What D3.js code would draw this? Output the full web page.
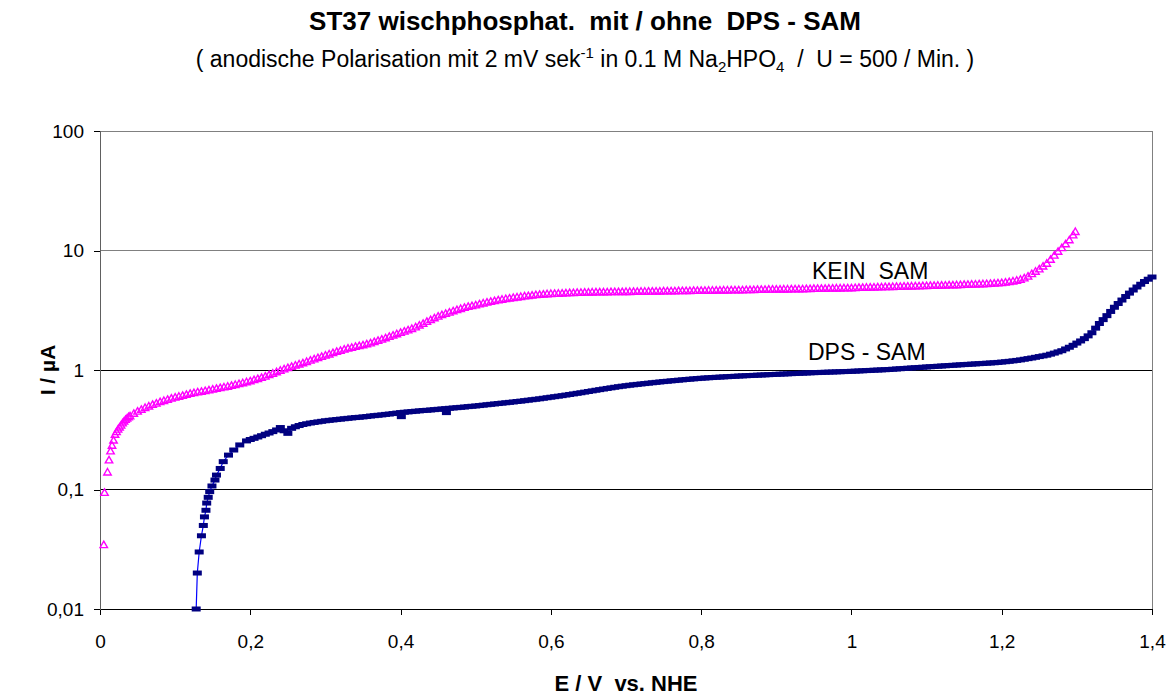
<!DOCTYPE html>
<html>
<head>
<meta charset="utf-8">
<script src="https://cdn.jsdelivr.net/npm/d3@7"></script>
<style>
  body { margin: 0; background: #fff; }
  text { font-family: "Liberation Sans", Arial, sans-serif; white-space: pre; }
</style>
</head>
<body>
<script>
// chart values
const xTicks = [0, 0.2, 0.4, 0.6, 0.8, 1, 1.2, 1.4];
const yTicks = [0.01, 0.1, 1, 10, 100];

// KEIN SAM (pink triangles), [E / V, I / µA]
const kein = [
  [0.005,0.034],[0.006,0.093],[0.010,0.138],[0.012,0.174],[0.014,0.207],[0.016,0.231],[0.018,0.255],
  [0.020,0.285],[0.022,0.30],[0.024,0.315],[0.026,0.328],[0.028,0.34],[0.030,0.355],[0.032,0.368],
  [0.034,0.38],[0.036,0.39],[0.038,0.40],[0.040,0.407],[0.045,0.427],[0.050,0.445],[0.055,0.462],
  [0.060,0.478],[0.065,0.492],[0.070,0.507],[0.075,0.52],[0.080,0.535],[0.085,0.547],[0.090,0.56],
  [0.095,0.572],[0.100,0.583],[0.105,0.594],[0.110,0.605],[0.115,0.616],[0.120,0.627],[0.125,0.636],
  [0.130,0.645],[0.135,0.653],[0.140,0.662],[0.145,0.671],[0.150,0.68],[0.155,0.69],[0.160,0.70],
  [0.165,0.71],[0.170,0.72],[0.175,0.732],[0.180,0.745],[0.185,0.757],[0.190,0.77],[0.195,0.785],
  [0.200,0.80],[0.205,0.817],[0.210,0.835],[0.215,0.855],[0.220,0.875],[0.225,0.90],[0.230,0.925],
  [0.235,0.952],[0.240,0.98],[0.245,1.005],[0.250,1.03],[0.255,1.055],[0.260,1.08],[0.265,1.105],
  [0.270,1.13],[0.275,1.16],[0.280,1.19],[0.285,1.22],[0.290,1.25],[0.295,1.28],[0.300,1.31],
  [0.305,1.34],[0.310,1.375],[0.315,1.41],[0.320,1.44],[0.325,1.47],[0.330,1.50],[0.335,1.525],
  [0.340,1.55],[0.345,1.575],[0.350,1.60],[0.355,1.63],[0.360,1.66],[0.365,1.70],[0.370,1.74],
  [0.375,1.785],[0.380,1.83],[0.385,1.88],[0.390,1.93],[0.395,1.98],[0.400,2.03],[0.405,2.08],
  [0.410,2.13],[0.415,2.19],[0.420,2.26],[0.425,2.34],[0.430,2.42],[0.435,2.51],[0.440,2.6],
  [0.445,2.69],[0.450,2.78],[0.455,2.86],[0.460,2.93],[0.465,3.0],[0.470,3.08],[0.475,3.15],
  [0.480,3.22],[0.485,3.29],[0.490,3.35],[0.495,3.4],[0.500,3.45],[0.505,3.52],[0.510,3.58],
  [0.515,3.64],[0.520,3.70],[0.525,3.75],[0.530,3.80],[0.535,3.85],[0.540,3.90],[0.545,3.94],
  [0.550,3.98],[0.555,4.02],[0.560,4.06],[0.565,4.1],[0.570,4.13],[0.575,4.17],[0.580,4.20],
  [0.585,4.23],[0.590,4.25],[0.595,4.28],[0.600,4.30],[0.605,4.31],[0.610,4.32],[0.615,4.335],
  [0.620,4.35],[0.625,4.365],[0.630,4.38],[0.635,4.39],[0.640,4.40],[0.645,4.41],[0.650,4.42],
  [0.655,4.425],[0.660,4.43],[0.665,4.435],[0.670,4.44],[0.675,4.44],[0.680,4.45],[0.685,4.45],
  [0.690,4.46],[0.695,4.46],[0.700,4.47],[0.705,4.47],[0.710,4.48],[0.715,4.48],[0.720,4.49],
  [0.725,4.49],[0.730,4.50],[0.735,4.50],[0.740,4.51],[0.745,4.51],[0.750,4.52],[0.755,4.52],
  [0.760,4.53],[0.765,4.53],[0.770,4.54],[0.775,4.54],[0.780,4.55],[0.785,4.55],[0.790,4.56],
  [0.795,4.56],[0.800,4.57],[0.805,4.57],[0.810,4.58],[0.815,4.58],[0.820,4.59],[0.825,4.59],
  [0.830,4.60],[0.835,4.60],[0.840,4.61],[0.845,4.61],[0.850,4.62],[0.855,4.62],[0.860,4.63],
  [0.865,4.63],[0.870,4.64],[0.875,4.65],[0.880,4.66],[0.885,4.66],[0.890,4.67],[0.895,4.67],
  [0.900,4.68],[0.905,4.68],[0.910,4.69],[0.915,4.69],[0.920,4.70],[0.925,4.70],[0.930,4.71],
  [0.935,4.71],[0.940,4.72],[0.945,4.73],[0.950,4.74],[0.955,4.74],[0.960,4.75],[0.965,4.75],
  [0.970,4.76],[0.975,4.77],[0.980,4.78],[0.985,4.78],[0.990,4.79],[0.995,4.79],[1.000,4.80],
  [1.005,4.82],[1.010,4.83],[1.015,4.84],[1.020,4.85],[1.025,4.86],[1.030,4.87],[1.035,4.88],
  [1.040,4.89],[1.045,4.90],[1.050,4.91],[1.055,4.92],[1.060,4.93],[1.065,4.94],[1.070,4.95],
  [1.075,4.96],[1.080,4.97],[1.085,4.98],[1.090,4.99],[1.095,5.00],[1.100,5.01],[1.105,5.02],
  [1.110,5.03],[1.115,5.04],[1.120,5.05],[1.125,5.06],[1.130,5.07],[1.135,5.08],[1.140,5.09],
  [1.145,5.10],[1.150,5.12],[1.155,5.13],[1.160,5.15],[1.165,5.16],[1.170,5.18],[1.175,5.19],
  [1.180,5.21],[1.185,5.23],[1.190,5.25],[1.195,5.27],[1.200,5.3],[1.205,5.35],[1.210,5.4],
  [1.215,5.47],[1.220,5.55],[1.225,5.66],[1.230,5.8],[1.235,6.0],[1.240,6.3],[1.245,6.6],
  [1.250,6.9],[1.255,7.3],[1.260,7.7],[1.265,8.3],[1.270,9.0],[1.275,9.7],[1.280,10.4],
  [1.285,11.2],[1.290,12.1],[1.295,13.3],[1.298,14.2]
];

// DPS - SAM (navy dashes on a blue line), [E / V, I / µA]
const dps = [
  [0.128,0.010],[0.1295,0.020],[0.132,0.030],[0.135,0.041],[0.1375,0.050],[0.139,0.059],[0.141,0.067],
  [0.142,0.077],[0.144,0.086],[0.146,0.096],[0.149,0.107],[0.153,0.12],[0.155,0.132],[0.160,0.15],
  [0.164,0.171],[0.171,0.194],[0.178,0.214],[0.186,0.236],[0.195,0.255],[0.200,0.262],[0.205,0.268],
  [0.210,0.275],[0.215,0.282],[0.220,0.29],[0.225,0.297],[0.230,0.305],[0.235,0.315],[0.240,0.33],
  [0.245,0.31],[0.250,0.295],[0.255,0.325],[0.260,0.335],[0.265,0.343],[0.270,0.35],[0.275,0.355],
  [0.280,0.36],[0.285,0.364],[0.290,0.368],[0.295,0.372],[0.300,0.376],[0.305,0.379],[0.310,0.382],
  [0.315,0.385],[0.320,0.388],[0.325,0.391],[0.330,0.394],[0.335,0.397],[0.340,0.40],[0.345,0.402],
  [0.350,0.405],[0.355,0.408],[0.360,0.412],[0.365,0.415],[0.370,0.418],[0.375,0.421],[0.380,0.425],
  [0.385,0.428],[0.390,0.432],[0.395,0.436],[0.400,0.44],[0.401,0.407],[0.405,0.443],[0.410,0.446],
  [0.415,0.449],[0.420,0.452],[0.425,0.455],[0.430,0.458],[0.435,0.46],[0.440,0.463],[0.445,0.466],
  [0.450,0.469],[0.455,0.472],[0.460,0.475],[0.461,0.44],[0.465,0.478],[0.470,0.481],[0.475,0.484],
  [0.480,0.487],[0.485,0.49],[0.490,0.494],[0.495,0.497],[0.500,0.50],[0.505,0.504],[0.510,0.508],
  [0.515,0.512],[0.520,0.516],[0.525,0.52],[0.530,0.524],[0.535,0.528],[0.540,0.532],[0.545,0.536],
  [0.550,0.54],[0.555,0.545],[0.560,0.549],[0.565,0.554],[0.570,0.559],[0.575,0.564],[0.580,0.569],
  [0.585,0.574],[0.590,0.58],[0.595,0.586],[0.600,0.592],[0.605,0.598],[0.610,0.604],[0.615,0.61],
  [0.620,0.617],[0.625,0.624],[0.630,0.631],[0.635,0.638],[0.640,0.645],[0.645,0.653],[0.650,0.661],
  [0.655,0.669],[0.660,0.677],[0.665,0.685],[0.670,0.693],[0.675,0.701],[0.680,0.709],[0.685,0.717],
  [0.690,0.725],[0.695,0.732],[0.700,0.739],[0.705,0.746],[0.710,0.752],[0.715,0.758],[0.720,0.764],
  [0.725,0.77],[0.730,0.776],[0.735,0.782],[0.740,0.788],[0.745,0.794],[0.750,0.80],[0.755,0.805],
  [0.760,0.811],[0.765,0.816],[0.770,0.822],[0.775,0.827],[0.780,0.833],[0.785,0.838],[0.790,0.843],
  [0.795,0.848],[0.800,0.853],[0.805,0.857],[0.810,0.861],[0.815,0.865],[0.820,0.869],[0.825,0.872],
  [0.830,0.876],[0.835,0.879],[0.840,0.883],[0.845,0.886],[0.850,0.89],[0.855,0.893],[0.860,0.896],
  [0.865,0.899],[0.870,0.902],[0.875,0.905],[0.880,0.908],[0.885,0.911],[0.890,0.914],[0.895,0.917],
  [0.900,0.92],[0.905,0.923],[0.910,0.926],[0.915,0.929],[0.920,0.932],[0.925,0.935],[0.930,0.938],
  [0.935,0.941],[0.940,0.944],[0.945,0.947],[0.950,0.95],[0.955,0.952],[0.960,0.955],[0.965,0.957],
  [0.970,0.96],[0.975,0.962],[0.980,0.965],[0.985,0.967],[0.990,0.97],[0.995,0.972],[1.000,0.975],
  [1.005,0.978],[1.010,0.982],[1.015,0.985],[1.020,0.989],[1.025,0.992],[1.030,0.996],[1.035,0.999],
  [1.040,1.003],[1.045,1.006],[1.050,1.01],[1.055,1.015],[1.060,1.02],[1.065,1.025],[1.070,1.03],
  [1.075,1.035],[1.080,1.04],[1.085,1.045],[1.090,1.05],[1.095,1.055],[1.100,1.06],[1.105,1.065],
  [1.110,1.07],[1.115,1.075],[1.120,1.08],[1.125,1.085],[1.130,1.09],[1.135,1.095],[1.140,1.10],
  [1.145,1.105],[1.150,1.11],[1.155,1.115],[1.160,1.12],[1.165,1.125],[1.170,1.13],[1.175,1.135],
  [1.180,1.14],[1.185,1.145],[1.190,1.15],[1.195,1.157],[1.200,1.165],[1.205,1.173],[1.210,1.182],
  [1.215,1.192],[1.220,1.203],[1.225,1.215],[1.230,1.23],[1.235,1.245],[1.240,1.26],[1.245,1.277],
  [1.250,1.295],[1.255,1.312],[1.260,1.33],[1.265,1.357],[1.270,1.385],[1.275,1.417],[1.280,1.45],
  [1.285,1.5],[1.290,1.55],[1.295,1.61],[1.300,1.68],[1.305,1.75],[1.310,1.83],[1.315,1.93],
  [1.320,2.05],[1.325,2.24],[1.330,2.45],[1.335,2.64],[1.340,2.85],[1.345,3.09],[1.350,3.35],
  [1.355,3.6],[1.360,3.85],[1.365,4.12],[1.370,4.4],[1.375,4.67],[1.380,4.95],[1.385,5.22],
  [1.390,5.5],[1.395,5.75],[1.400,6.0]
];

const width = 1171;
const height = 695;
const plot = {left: 100, right: 1152, top: 131, bottom: 609};

let svg = d3.select("body").append("svg")
  .attr("width", width)
  .attr("height", height);

let x = d3.scaleLinear().domain([0, 1.4]).range([plot.left, plot.right]);
let y = d3.scaleLog().domain([0.01, 100]).range([plot.bottom, plot.top]);

const comma = v => String(v).replace(".", ",");

// gridlines (top ones look grey, lower ones black)
svg.append("g").selectAll("line")
  .data(yTicks.slice(1))
  .enter().append("line")
    .attr("x1", plot.left).attr("x2", plot.right)
    .attr("y1", d => y(d)).attr("y2", d => y(d))
    .attr("stroke", d => d >= 10 ? "#808080" : "#000")
    .attr("stroke-width", 1)
    .attr("shape-rendering", "crispEdges");

// right border
svg.append("line")
  .attr("x1", plot.right).attr("x2", plot.right)
  .attr("y1", plot.top).attr("y2", plot.bottom)
  .attr("stroke", "#808080")
  .attr("shape-rendering", "crispEdges");

// axes
let xAxis = svg.append("g")
  .attr("transform", "translate(0," + plot.bottom + ")")
  .call(d3.axisBottom(x).tickValues(xTicks).tickSize(6).tickPadding(20).tickFormat(comma));
xAxis.select(".domain").attr("stroke", "#000");
xAxis.selectAll(".tick line").attr("stroke", "#000");
xAxis.selectAll("text").attr("font-size", 19).attr("font-family", "Liberation Sans, Arial").attr("fill", "#000");

let yAxis = svg.append("g")
  .attr("transform", "translate(" + plot.left + ",0)")
  .call(d3.axisLeft(y).tickValues(yTicks).tickSize(6).tickPadding(10).tickFormat(comma));
yAxis.select(".domain").attr("stroke", "#606060");
yAxis.selectAll(".tick line").attr("stroke", "#000");
yAxis.selectAll("text").attr("font-size", 19).attr("font-family", "Liberation Sans, Arial").attr("fill", "#000");
svg.selectAll(".domain, .tick line").attr("shape-rendering", "crispEdges");

// DPS line + dashes
let line = d3.line().x(d => x(d[0])).y(d => y(d[1]));
svg.append("path")
  .datum(dps)
  .attr("d", line)
  .attr("fill", "none")
  .attr("stroke", "#0000ff")
  .attr("stroke-width", 1.2);

svg.append("g").selectAll("rect")
  .data(dps)
  .enter().append("rect")
    .attr("x", d => x(d[0]) - 4.5)
    .attr("y", d => y(d[1]) - 2.5)
    .attr("width", 9)
    .attr("height", 5)
    .attr("fill", "#000080");

// KEIN SAM triangles
let tri = d3.symbol().type(d3.symbolTriangle).size(24);
svg.append("g").selectAll("path")
  .data(kein)
  .enter().append("path")
    .attr("d", tri)
    .attr("transform", d => "translate(" + x(d[0]) + "," + y(d[1]) + ")")
    .attr("fill", "none")
    .attr("stroke", "#ff00ff")
    .attr("stroke-width", 1.4);

// series labels
svg.append("text").attr("x", 812).attr("y", 279).attr("font-size", 23).text("KEIN  SAM");
svg.append("text").attr("x", 808).attr("y", 360).attr("font-size", 23).text("DPS - SAM");

// titles
svg.append("text")
  .attr("x", 585).attr("y", 30)
  .attr("text-anchor", "middle")
  .attr("font-size", 26).attr("font-weight", "bold")
  .text("ST37 wischphosphat.  mit / ohne  DPS - SAM");

let sub = svg.append("text")
  .attr("x", 585).attr("y", 67)
  .attr("text-anchor", "middle")
  .attr("font-size", 23);
sub.append("tspan").text("( anodische Polarisation mit 2 mV sek");
sub.append("tspan").attr("font-size", 15).attr("dy", -9).text("-1");
sub.append("tspan").attr("dy", 9).text(" in 0.1 M Na");
sub.append("tspan").attr("font-size", 15).attr("dy", 5).text("2");
sub.append("tspan").attr("dy", -5).text("HPO");
sub.append("tspan").attr("font-size", 15).attr("dy", 5).text("4");
sub.append("tspan").attr("dy", -5).text("  /  U = 500 / Min. )");

// axis titles
svg.append("text")
  .attr("x", 626).attr("y", 691)
  .attr("text-anchor", "middle")
  .attr("font-size", 22).attr("font-weight", "bold")
  .text("E / V  vs. NHE");

svg.append("text")
  .attr("transform", "translate(55,370) rotate(-90)")
  .attr("text-anchor", "middle")
  .attr("font-size", 21).attr("font-weight", "bold")
  .text("I / µA");
</script>
</body>
</html>
